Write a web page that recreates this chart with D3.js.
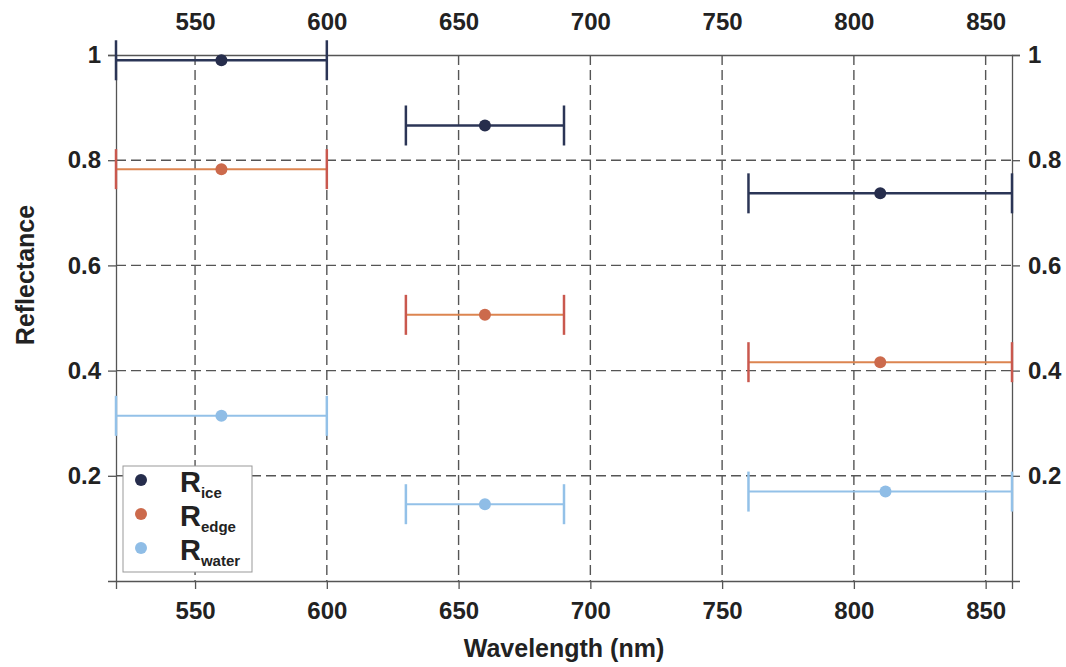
<!DOCTYPE html>
<html>
<head>
<meta charset="utf-8">
<script src="https://cdn.jsdelivr.net/npm/d3@7"></script>
<style>
  body { margin: 0; background: #fff; }
  text { font-family: "Liberation Sans", Arial, sans-serif; font-weight: bold; fill: #222; }
</style>
</head>
<body>
<div id="chart"></div>
<script>
// band edges of the three channels (nm)
const bandLow = [520, 630, 760];
const bandHigh = [600, 690, 860];

const iceWavelength = [560, 660, 810];
const iceReflectance = [0.99, 0.866, 0.737];
const edgeWavelength = [560, 660, 810];
const edgeReflectance = [0.783, 0.506, 0.416];
const waterWavelength = [560, 660, 812];
const waterReflectance = [0.314, 0.146, 0.170];

const xTicks = [550, 600, 650, 700, 750, 800, 850];
const yTicks = [0.2, 0.4, 0.6, 0.8, 1];
const gridY = [0.2, 0.4, 0.6, 0.8];

const series = [
  { name: "ice", wl: iceWavelength, val: iceReflectance, line: "#2b3556", cap: "#2b3556", dot: "#262d4c", w: 2.5 },
  { name: "edge", wl: edgeWavelength, val: edgeReflectance, line: "#dc8550", cap: "#c9584e", dot: "#cc6a4c", w: 2 },
  { name: "water", wl: waterWavelength, val: waterReflectance, line: "#93c1e8", cap: "#93c1e8", dot: "#8fbde6", w: 2 }
];

const width = 1066;
const height = 667;
const margin = { top: 55, bottom: 86, left: 116, right: 54 };

const svg = d3.select("#chart")
  .append("svg")
  .attr("width", width)
  .attr("height", height);

const x = d3.scaleLinear()
  .domain([520, 860])
  .range([margin.left, width - margin.right]);

const y = d3.scaleLinear()
  .domain([0, 1])
  .range([height - margin.bottom, margin.top]);

const fmt = d3.format("~g");

// dashed grid
const grid = svg.append("g").attr("stroke", "#555").attr("stroke-width", 1.4).attr("stroke-dasharray", "10,5");
grid.selectAll(".gx").data(xTicks).join("line")
  .attr("x1", d => x(d)).attr("x2", d => x(d))
  .attr("y1", y(1)).attr("y2", y(0));
grid.selectAll(".gy").data(gridY).join("line")
  .attr("x1", x(520)).attr("x2", x(860))
  .attr("y1", d => y(d)).attr("y2", d => y(d));

// axes
const styleAxis = g => {
  g.select(".domain").attr("stroke", "#555").attr("stroke-width", 1.3);
  g.selectAll(".tick line").attr("stroke", "#555").attr("stroke-width", 1.3);
  g.selectAll("text").attr("font-size", "24px").attr("fill", "#222");
  g.attr("font-family", null);
};

svg.append("g")
  .attr("transform", `translate(0, ${y(0)})`)
  .call(d3.axisBottom(x).tickValues(xTicks).tickFormat(fmt).tickSizeOuter(0).tickSize(8).tickPadding(13))
  .call(styleAxis);

svg.append("g")
  .attr("transform", `translate(0, ${y(1)})`)
  .call(d3.axisTop(x).tickValues(xTicks).tickFormat(fmt).tickSizeOuter(0).tickSize(0).tickPadding(25))
  .call(styleAxis);

svg.append("g")
  .attr("transform", `translate(${x(520)}, 0)`)
  .call(d3.axisLeft(y).tickValues(yTicks).tickFormat(fmt).tickSizeOuter(0).tickSize(8).tickPadding(7))
  .call(styleAxis);

svg.append("g")
  .attr("transform", `translate(${x(860)}, 0)`)
  .call(d3.axisRight(y).tickValues(yTicks).tickFormat(fmt).tickSizeOuter(0).tickSize(8).tickPadding(8))
  .call(styleAxis);

// error bars + points
series.forEach(s => {
  const g = svg.append("g");
  const rows = s.val.map((v, i) => ({ v, c: s.wl[i], lo: bandLow[i], hi: bandHigh[i] }));
  g.selectAll(".bar").data(rows).join("line")
    .attr("x1", d => x(d.lo)).attr("x2", d => x(d.hi))
    .attr("y1", d => y(d.v)).attr("y2", d => y(d.v))
    .attr("stroke", s.line).attr("stroke-width", s.w);
  ["lo", "hi"].forEach(k => {
    g.selectAll(".cap-" + k).data(rows).join("line")
      .attr("x1", d => x(d[k])).attr("x2", d => x(d[k]))
      .attr("y1", d => y(d.v) - 20).attr("y2", d => y(d.v) + 20)
      .attr("stroke", s.cap).attr("stroke-width", 2.5);
  });
  g.selectAll("circle").data(rows).join("circle")
    .attr("cx", d => x(d.c)).attr("cy", d => y(d.v))
    .attr("r", 6).attr("fill", s.dot);
});

// legend
const legend = svg.append("g").attr("transform", "translate(123, 466)");
legend.append("rect")
  .attr("width", 129).attr("height", 106)
  .attr("fill", "#fff").attr("stroke", "#999").attr("stroke-width", 1);
series.forEach((s, i) => {
  const cy = 14 + i * 34;
  legend.append("circle").attr("cx", 18).attr("cy", cy).attr("r", 6).attr("fill", s.dot);
  const t = legend.append("text").attr("x", 57).attr("y", cy + 12).attr("font-size", "29px");
  t.append("tspan").text("R");
  t.append("tspan").attr("dy", 6).attr("font-size", "15px").text(s.name);
});

// axis titles
svg.append("text")
  .attr("x", x(690)).attr("y", 657)
  .attr("text-anchor", "middle").attr("font-size", "25px")
  .text("Wavelength (nm)");

svg.append("text")
  .attr("transform", "translate(34, 275) rotate(-90)")
  .attr("text-anchor", "middle").attr("font-size", "25px")
  .text("Reflectance");
</script>
</body>
</html>
